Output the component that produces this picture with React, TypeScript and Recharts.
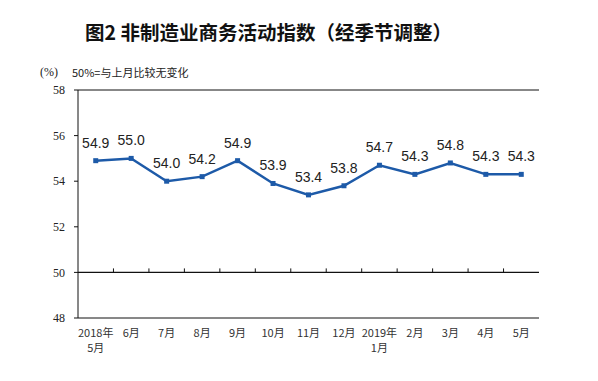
import React from 'react';
import { LineChart, Line, XAxis, YAxis, ReferenceLine, LabelList } from 'recharts';

const months = ['2018年\n5月', '6月', '7月', '8月', '9月', '10月', '11月', '12月', '2019年\n1月', '2月', '3月', '4月', '5月'];
const indexValues = [54.9, 55.0, 54.0, 54.2, 54.9, 53.9, 53.4, 53.8, 54.7, 54.3, 54.8, 54.3, 54.3];
const yTicks = [48, 50, 52, 54, 56, 58];

const chartData = months.map((m, i) => ({ month: m, value: indexValues[i] }));

const BLUE = '#1d5aa8';

const MonthTick = ({ x, y, payload }: any) => {
  const lines = String(payload.value).split('\n');
  return (
    <g>
      {lines.map((l, i) => (
        <text key={i} x={x} y={y + 11 + i * 15} textAnchor="middle" fontSize={11} fill="#333" fontFamily="'Noto Sans CJK SC', sans-serif">
          {l}
        </text>
      ))}
    </g>
  );
};

const SquareDot = ({ cx, cy }: any) => {
  if (cx == null || cy == null) return null;
  return <rect x={cx - 2.5} y={cy - 2.5} width={5} height={5} fill={BLUE} />;
};

// 50 line with little upward ticks between months, like the original axis
const FiftyLine = (props: any) => {
  const { x1, y1, x2, y2 } = props;
  const step = (x2 - x1) / months.length;
  return (
    <g>
      <line x1={x1} y1={y1} x2={x2} y2={y2} stroke="#111" strokeWidth={1.2} />
      {months.slice(1).map((_, i) => (
        <line key={i} x1={x1 + step * (i + 1)} x2={x1 + step * (i + 1)} y1={y1} y2={y1 - 4} stroke="#111" />
      ))}
    </g>
  );
};

export default function App() {
  return (
    <div style={{ position: 'absolute', left: 0, top: 0, width: 598, height: 381, background: '#fff' }}>
      <div style={{ position: 'absolute', left: 85, top: 19, fontSize: 19.5, fontWeight: 'bold', color: '#111', fontFamily: "'Noto Sans CJK SC', sans-serif", lineHeight: '26px', whiteSpace: 'nowrap' }}>
        图2 非制造业商务活动指数（经季节调整）
      </div>
      <div style={{ position: 'absolute', left: 40, top: 65, fontSize: 12, color: '#222', fontFamily: "'Liberation Serif', serif", whiteSpace: 'nowrap' }}>
        (%)
      </div>
      <div style={{ position: 'absolute', left: 72, top: 64, fontSize: 11, color: '#222', fontFamily: "'Noto Sans CJK SC', sans-serif", whiteSpace: 'nowrap' }}>
        50%=与上月比较无变化
      </div>
      <LineChart width={598} height={381} data={chartData} margin={{ top: 90, right: 59, bottom: 13, left: 38 }}>
        <XAxis
          dataKey="month"
          scale="band"
          interval={0}
          height={50}
          tickLine={false}
          axisLine={{ stroke: '#111' }}
          tick={<MonthTick />}
        />
        <YAxis
          domain={[48, 58]}
          ticks={yTicks}
          width={40}
          tickSize={4}
          tickMargin={9}
          axisLine={{ stroke: '#111' }}
          tickLine={{ stroke: '#111' }}
          tick={{ fontSize: 12, fill: '#222', fontFamily: "'Liberation Serif', serif" }}
        />
        <YAxis yAxisId="right" orientation="right" domain={[48, 58]} width={0} tick={false} tickLine={false} axisLine={{ stroke: '#111' }} />
        <ReferenceLine y={58} stroke="#111" />
        <ReferenceLine y={50} shape={<FiftyLine />} />
        <Line
          dataKey="value"
          stroke={BLUE}
          strokeWidth={2.5}
          dot={<SquareDot />}
          activeDot={false}
          isAnimationActive={false}
        >
          <LabelList dataKey="value" position="top" offset={13} fontSize={14} fill="#222" fontFamily="'Liberation Sans', Arial, sans-serif" formatter={(v: any) => Number(v).toFixed(1)} />
        </Line>
      </LineChart>
    </div>
  );
}
